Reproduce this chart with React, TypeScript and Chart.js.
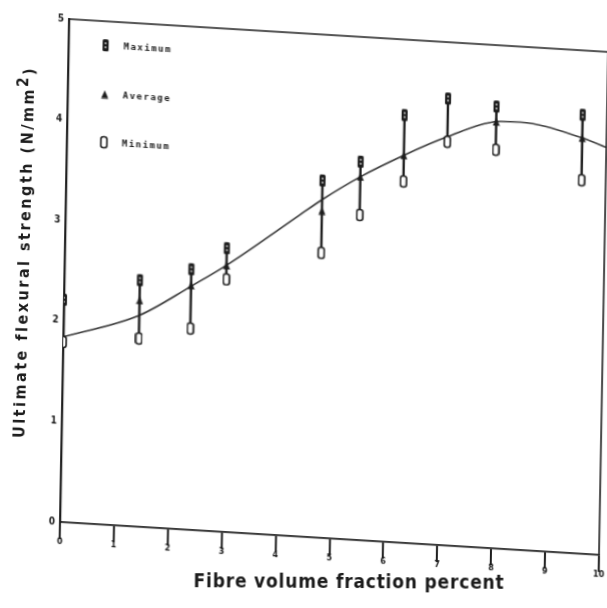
import React, { useEffect, useRef } from "react";
import { Chart, registerables } from "chart.js";

Chart.register(...registerables);

// ---- data ----
const fibreVolume = [0, 1.4, 2.35, 3, 4.75, 5.45, 6.25, 7.05, 7.95, 9.55];
const maxStrength = [2.21, 2.45, 2.59, 2.82, 3.55, 3.76, 4.25, 4.44, 4.39, 4.36];
const avgStrength = [1.84, 2.25, 2.43, 2.65, 3.25, 3.61, 3.85, 4.06, 4.24, 4.13];
const minStrength = [1.79, 1.87, 2.0, 2.51, 2.83, 3.23, 3.59, 4.01, 3.96, 3.71];
const curveX = [0, 1.4, 2.35, 3, 4.33, 4.75, 5.45, 6.25, 7.05, 7.95, 8.4, 9.55, 10];
const curveY = [1.84, 2.1, 2.42, 2.65, 3.19, 3.36, 3.61, 3.85, 4.06, 4.24, 4.25, 4.13, 4.05];
const legendLabels = ["Maximum", "Average", "Minimum"];
const xTitle = "Fibre volume fraction percent";
const yTitle = "Ultimate flexural strength (N/mm";

const INK = "#1c1c1c";
const FONT = "'DejaVu Sans Condensed', 'Liberation Sans Narrow', 'DejaVu Sans', sans-serif";

function makeMarker(kind: string): HTMLCanvasElement {
  const c = document.createElement("canvas");
  const w = 8;
  const h = kind === "avg" ? 9 : 14;
  c.width = w;
  c.height = h;
  const g = c.getContext("2d")!;
  if (kind === "max") {
    g.fillStyle = INK;
    g.beginPath();
    g.roundRect(1, 1, 6, 12, 1.5);
    g.fill();
    g.fillStyle = "rgba(255,255,255,0.6)";
    g.fillRect(3, 4, 2, 2);
    g.fillRect(3, 8, 2, 2);
  } else if (kind === "min") {
    g.fillStyle = "#ffffff";
    g.strokeStyle = INK;
    g.lineWidth = 1.6;
    g.beginPath();
    g.roundRect(1, 1.5, 6, 11, 2.5);
    g.fill();
    g.stroke();
  } else {
    g.fillStyle = INK;
    g.beginPath();
    g.moveTo(4, 0.5);
    g.lineTo(7.5, 8.5);
    g.lineTo(0.5, 8.5);
    g.closePath();
    g.fill();
  }
  return c;
}

export default function App() {
  const canvasRef = useRef<HTMLCanvasElement | null>(null);

  useEffect(() => {
    const canvas = canvasRef.current;
    if (!canvas) return;
    const maxMarker = makeMarker("max");
    const avgMarker = makeMarker("avg");
    const minMarker = makeMarker("min");

    const barSegments: { x: number; y: number | null }[] = [];
    fibreVolume.forEach((x, i) => {
      barSegments.push({ x, y: minStrength[i] });
      barSegments.push({ x, y: maxStrength[i] });
      barSegments.push({ x, y: null });
    });

    const framePlugin = {
      id: "frameAndLegend",
      afterDraw(chart: any) {
        const { ctx, chartArea } = chart;
        const { left, right, top, bottom } = chartArea;
        ctx.save();
        ctx.strokeStyle = INK;
        ctx.lineWidth = 1.6;
        ctx.beginPath();
        ctx.moveTo(left, top);
        ctx.lineTo(right, top);
        ctx.lineTo(right, bottom);
        ctx.stroke();
        // legend inside the plot
        const markers = [maxMarker, avgMarker, minMarker];
        const offsets = [24, 73, 121];
        ctx.fillStyle = INK;
        ctx.font = "bold 9px 'DejaVu Sans Mono', monospace";
        ctx.textBaseline = "middle";
        ctx.textAlign = "left";
        try {
          (ctx as any).letterSpacing = "1.5px";
        } catch (e) {}
        legendLabels.forEach((label, i) => {
          const m = markers[i];
          const cy = top + offsets[i];
          ctx.drawImage(m, left + 37 - m.width / 2, cy - m.height / 2);
          ctx.fillText(label, left + 55, cy + 1);
        });
        ctx.restore();
      },
    };

    const chart = new Chart(canvas, {
      type: "line",
      data: {
        datasets: [
          {
            label: "Maximum",
            data: fibreVolume.map((x, i) => ({ x, y: maxStrength[i] })),
            showLine: false,
            pointStyle: maxMarker as any,
            pointRadius: 5,
            order: 1,
          },
          {
            label: "Minimum",
            data: fibreVolume.map((x, i) => ({ x, y: minStrength[i] })),
            showLine: false,
            pointStyle: minMarker as any,
            pointRadius: 5,
            order: 2,
          },
          {
            label: "Average",
            data: fibreVolume.map((x, i) => ({ x, y: avgStrength[i] })),
            showLine: false,
            pointStyle: avgMarker as any,
            pointRadius: 4,
            order: 3,
          },
          {
            label: "range",
            data: barSegments as any,
            borderColor: INK,
            borderWidth: 2.4,
            pointRadius: 0,
            spanGaps: false,
            order: 4,
          },
          {
            label: "fit",
            data: curveX.map((x, i) => ({ x, y: curveY[i] })),
            borderColor: "#3a3a3a",
            borderWidth: 1.6,
            pointRadius: 0,
            cubicInterpolationMode: "monotone",
            order: 5,
          },
        ],
      },
      options: {
        responsive: false,
        animation: false,
        devicePixelRatio: 1,
        layout: { padding: { top: 21, right: 4, left: 0, bottom: 0 } },
        plugins: { legend: { display: false }, tooltip: { enabled: false } },
        scales: {
          x: {
            type: "linear",
            min: 0,
            max: 10,
            ticks: {
              stepSize: 1,
              autoSkip: false,
              maxRotation: 0,
              color: INK,
              padding: -3,
              font: { family: FONT, size: 9, weight: "bold" },
            },
            grid: {
              display: true,
              drawOnChartArea: false,
              drawTicks: true,
              tickLength: 17,
              color: INK,
              lineWidth: 2,
            },
            border: { display: true, color: INK, width: 1.8 },
            afterFit: (s: any) => {
              s.height = 84;
              s.paddingLeft = 0;
              s.paddingRight = 0;
            },
          },
          y: {
            type: "linear",
            min: 0,
            max: 5,
            ticks: {
              stepSize: 1,
              color: INK,
              padding: -3,
              font: { family: FONT, size: 10, weight: "bold" },
            },
            grid: { display: false },
            border: { display: true, color: INK, width: 2.2 },
            afterFit: (s: any) => {
              s.width = 62;
              s.paddingTop = 0;
              s.paddingBottom = 0;
            },
          },
        },
      },
      plugins: [framePlugin],
    });
    return () => chart.destroy();
  }, []);

  return (
    <div
      style={{
        position: "fixed",
        left: 0,
        top: 0,
        width: 607,
        height: 608,
        background: "#ffffff",
        overflow: "hidden",
      }}
    >
      <canvas
        ref={canvasRef}
        width={607}
        height={608}
        style={{
          position: "absolute",
          left: 0,
          top: 0,
          transformOrigin: "0 0",
          transform: "matrix(1, 0.061, -0.018, 1, 7.43, -5.78)",
        }}
      />
      <div
        style={{
          position: "absolute",
          left: 24,
          top: 252,
          transform: "translate(-50%, -50%) rotate(-88.4deg)",
          whiteSpace: "nowrap",
          fontFamily: FONT,
          fontWeight: "bold",
          fontSize: 16,
          letterSpacing: "2.5px",
          color: INK,
        }}
      >
        {yTitle}
        <sup style={{ fontSize: "0.95em", lineHeight: 0 }}>2</sup>)
      </div>
      <div
        style={{
          position: "absolute",
          left: 349,
          top: 581,
          transform: "translate(-50%, -50%) rotate(0.3deg)",
          whiteSpace: "nowrap",
          fontFamily: FONT,
          fontWeight: "bold",
          fontSize: 19,
          letterSpacing: "0.8px",
          color: INK,
        }}
      >
        {xTitle}
      </div>
    </div>
  );
}
